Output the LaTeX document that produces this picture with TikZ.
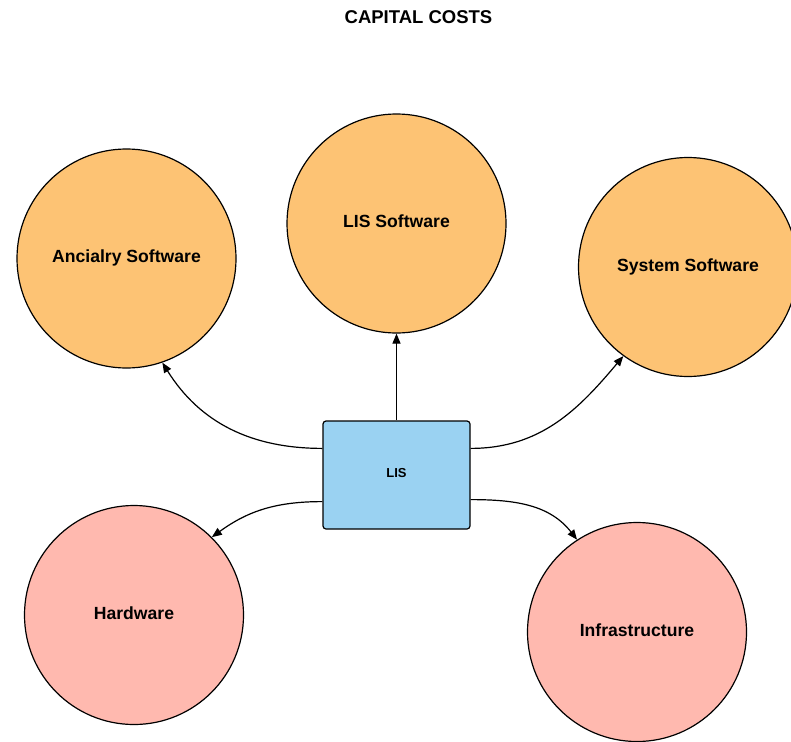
\documentclass[tikz,border=0pt]{standalone}
\usepackage{fontspec}
\setmainfont{Liberation Sans}
\usetikzlibrary{arrows.meta}
\definecolor{softorange}{HTML}{FDC374}
\definecolor{softpink}{HTML}{FFB9AF}
\definecolor{softblue}{HTML}{9AD2F2}
\tikzset{
  costcircle/.style={circle, draw=black, line width=1.2pt, minimum size=219pt,
    inner sep=0pt, text height=13pt, text depth=5pt,
    font=\fontsize{17.6}{20}\selectfont\bfseries},
  software/.style={costcircle, fill=softorange},
  hardside/.style={costcircle, fill=softpink},
  hub/.style={draw=black, line width=1.2pt, rounded corners=3pt, fill=softblue,
    minimum width=147pt, minimum height=108pt, inner sep=0pt,
    text height=9.5pt, text depth=4.5pt,
    font=\fontsize{13}{15}\selectfont\bfseries},
  link/.style={line width=1.2pt, -{Triangle[length=10pt,width=8pt]}},
}
\begin{document}
\begin{tikzpicture}[x=1pt,y=1pt]
  \useasboundingbox (0,0) rectangle (791,-741);
  \clip (0,0) rectangle (791,-741);
  \fill[white] (0,0) rectangle (791,-741);

  % heading
  \node[font=\fontsize{18.5}{21}\selectfont\bfseries] (title) at (418.5,-17) {CAPITAL COSTS};

  % cost categories
  \node[software] (anc) at (126.5,-258.5) {Ancialry Software};
  \node[software] (lis) at (396.5,-223.5) {LIS Software};
  \node[software] (sys) at (688,-267) {System Software};
  \node[hardside] (hw)  at (134,-615) {Hardware};
  \node[hardside] (inf) at (637,-632) {Infrastructure};

  % central system
  \node[hub] (box) at (396.5,-475) {LIS};

  % links from the system to each category
  \draw[link] (box.north) -- (lis.south);
  \draw[link] ([yshift=-28pt]box.north west) to[out=180,in=-58] (anc.-71);
  \draw[link] ([yshift=-28pt]box.north east) to[out=0,in=-130] (sys.-126);
  \draw[link] ([yshift=28pt]box.south west) to[out=180,in=36] (hw.45);
  \draw[link] ([yshift=30pt]box.south east) to[out=0,in=128] (inf.123);
\end{tikzpicture}
\end{document}
